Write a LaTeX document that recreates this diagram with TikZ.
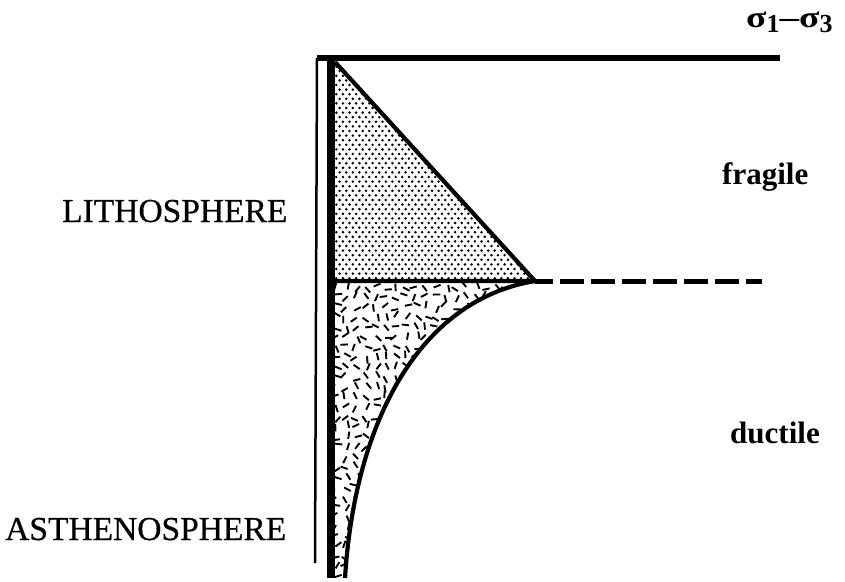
\documentclass[tikz,border=0pt]{standalone}
\usepackage{fontspec}
\setmainfont{Liberation Serif}
\begin{document}
\begin{tikzpicture}[x=1pt,y=-1pt,
  thickaxis/.style={line width=8pt},
  thinaxis/.style={line width=2.5pt},
  topaxis/.style={line width=6.5pt},
  boundary/.style={line width=4.2pt, line join=miter},
  dashbound/.style={line width=5pt, dash pattern=on 24pt off 7pt, dash phase=6pt},
  capslbl/.style={anchor=base west, inner sep=0pt, font=\fontsize{33.5}{38}\selectfont\addfontfeature{FakeBold=0.6}},
  boldlbl/.style={anchor=base west, inner sep=0pt, font=\fontsize{31}{36}\selectfont\bfseries},
  dotmark/.style={fill=black},
  flake/.style={line width=1.9pt}]
\useasboundingbox (0,0) rectangle (845,581);
% key points
\coordinate (A) at (335,62);
\coordinate (B) at (535,281);
\coordinate (C) at (333,281);
\coordinate (D) at (345,578);
\coordinate (E) at (762,281);
\coordinate (TL) at (317,58);
\coordinate (TR) at (780,58);
\coordinate (TB) at (315,563);
\coordinate (AX0) at (331,60);
\coordinate (AX1) at (331,578);
% dotted triangle
\begin{scope}
  \clip (A) -- (B) -- (C) -- cycle;
  \foreach \j in {0,...,48} {
    \foreach \i in {0,...,31} {
      \pgfmathsetmacro\dxx{333+\i*6.6+mod(\j,2)*3.3}
      \pgfmathsetmacro\dyy{62+\j*4.6}
      \fill[dotmark] (\dxx,\dyy) circle (1.4pt);
    }
  }
\end{scope}
% flaked region
\begin{scope}
  \clip (C) -- (B) .. controls (420,300) and (355,420) .. (D) -- (AX1) -- cycle;
  \pgfmathsetseed{12}
  \foreach \i in {0,...,21} {
    \foreach \j in {0,...,30} {
      \pgfmathsetmacro\px{333+\i*10+rnd*6}
      \pgfmathsetmacro\py{284+\j*10+rnd*6}
      \pgfmathsetmacro\ang{rnd*180}
      \draw[flake] (\px,\py) ++(\ang:3.7) -- ++(\ang+180:7.4);
    }
  }
\end{scope}
% boundaries
\draw[boundary] (A) -- (B) -- (C);
\draw[boundary] (B) .. controls (420,300) and (355,420) .. (D);
\draw[dashbound] (B) -- (E);
% axes
\draw[thinaxis] (TB) -- (TL);
\draw[topaxis] (TL) -- (TR);
\draw[thickaxis] (AX0) -- (AX1);
% labels
\node[capslbl] (litho) at (62,222) {LITHOSPHERE};
\node[capslbl] (astheno) at (5,540) {ASTHENOSPHERE};
\node[boldlbl] (fragile) at (722,184) {fragile};
\node[boldlbl] (ductile) at (730,443) {ductile};
\node[anchor=base west, inner sep=0pt, font=\fontsize{30}{34}\selectfont\bfseries] (sigma) at (746,27)
  {\scalebox{1.25}[1]{σ}\raisebox{-5pt}{\fontsize{26}{30}\selectfont 1}\scalebox{1.3}[1]{–}\scalebox{1.25}[1]{σ}\raisebox{-5pt}{\fontsize{26}{30}\selectfont 3}};
\end{tikzpicture}
\end{document}
